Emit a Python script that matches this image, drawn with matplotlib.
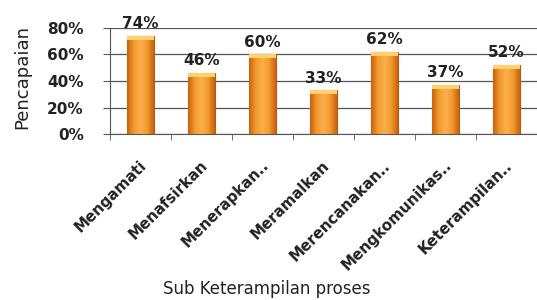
import numpy as np
import matplotlib.pyplot as plt
from matplotlib.colors import LinearSegmentedColormap

categories = ["Mengamati", "Menafsirkan", "Menerapkan..", "Meramalkan",
              "Merencanakan..", "Mengkomunikas..", "Keterampilan.."]
values = [0.74, 0.46, 0.60, 0.33, 0.62, 0.37, 0.52]
labels = ["74%", "46%", "60%", "33%", "62%", "37%", "52%"]
yticks = [0, 0.2, 0.4, 0.6, 0.8]
ytick_labels = ["0%", "20%", "40%", "60%", "80%"]

fig = plt.figure(figsize=(5.37, 3.0), dpi=100)
ax = fig.add_axes([0.205, 0.553, 0.795, 0.354])

x = np.arange(len(categories))
bars = ax.bar(x, values, width=0.43, color="#EE8420", edgecolor="#B85A0C",
              linewidth=0.8, zorder=3)

# orange cylinder-like shading
cmap = LinearSegmentedColormap.from_list("og", ["#C8620E", "#F39A2E", "#FBB04A", "#F39A2E", "#C8620E"])
grad = np.linspace(0, 1, 64).reshape(1, -1)
for b in bars:
    x0, w, h = b.get_x(), b.get_width(), b.get_height()
    im = ax.imshow(grad, cmap=cmap, aspect="auto", extent=[x0, x0 + w, 0, h], zorder=3.5)
    im.set_clip_path(b)
    ax.add_patch(plt.Rectangle((x0, h - 0.03), w, 0.03, color="#FFD070", zorder=4, lw=0))

for xi, v, t in zip(x, values, labels):
    ax.text(xi, v + 0.035, t, ha="center", va="bottom", fontsize=11,
            fontweight="bold", color="#222222")

ax.set_xlim(-0.5, len(categories) - 0.5)
ax.set_ylim(0, 0.8)
ax.set_yticks(yticks)
ax.set_yticklabels(ytick_labels, fontsize=11, fontweight="bold", color="#222222")
ax.yaxis.grid(True, color="#555555", linewidth=0.9, zorder=0)
ax.set_axisbelow(True)

ax.set_xticks(x - 0.03)
ax.set_xticklabels(categories, rotation=45, ha="right", rotation_mode="anchor",
                   fontsize=10.8, fontweight="bold", color="#222222")
ax.set_xticks(np.arange(-0.5, len(categories)), minor=True)
ax.tick_params(axis="x", which="major", length=0, pad=17)
ax.tick_params(axis="x", which="minor", length=4, color="#555555")
ax.tick_params(axis="y", length=5, color="#555555", pad=14)

for s in ["top", "right"]:
    ax.spines[s].set_visible(False)
ax.spines["left"].set_color("#555555")
ax.spines["bottom"].set_color("#555555")

fig.text(0.041, 0.743, "Pencapaian", rotation=90, ha="center", va="center",
         fontsize=13, color="#222222")
fig.text(0.497, 0.035, "Sub Keterampilan proses", ha="center", va="center",
         fontsize=12, color="#222222")

fig.savefig("out.png", dpi=100)
